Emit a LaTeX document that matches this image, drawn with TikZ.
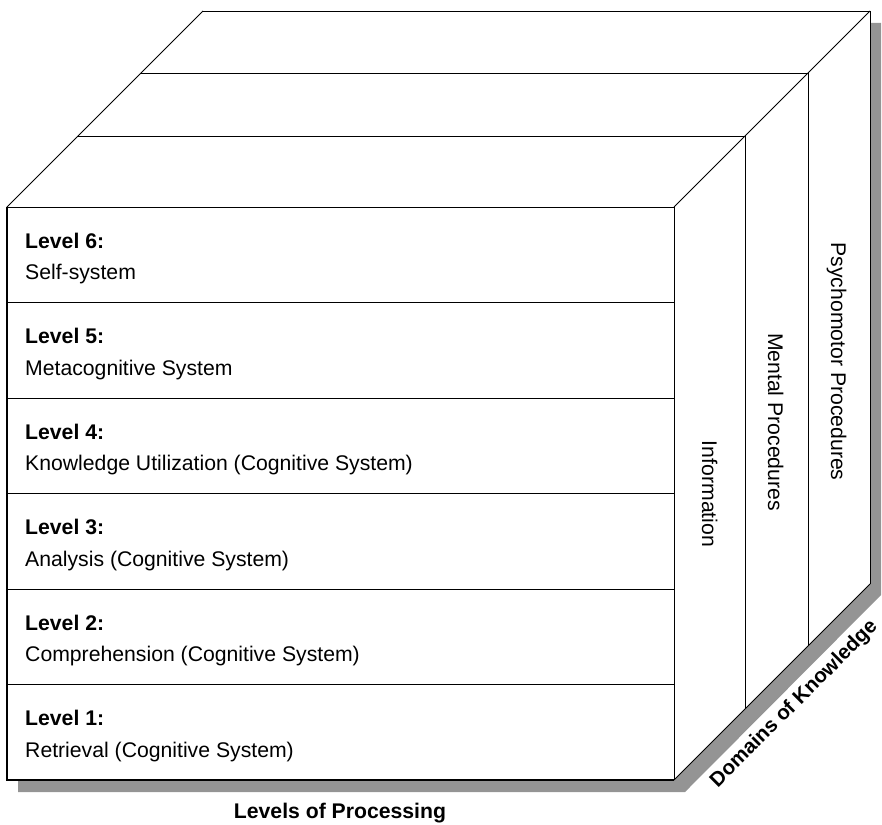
\documentclass[tikz,border=0pt]{standalone}
\usepackage{fontspec}
\setmainfont{Liberation Sans}
\tikzset{
  lvlhead/.style={anchor=base west, inner sep=0pt, font=\fontsize{21.2}{25}\selectfont\bfseries},
  lvltext/.style={anchor=base west, inner sep=0pt, font=\fontsize{21.2}{25}\selectfont},
  sidelabel/.style={anchor=base, inner sep=0pt, rotate=-90, font=\fontsize{21.2}{25}\selectfont},
  axislabel/.style={anchor=base, inner sep=0pt, font=\fontsize{21.2}{25}\selectfont\bfseries},
  edge/.style={line width=0.8pt, line join=miter},
}
\begin{document}
\begin{tikzpicture}[x=1pt,y=-1pt]
\useasboundingbox (0,0) rectangle (882,824);
\fill[black!42] (18,219) -- (214,23) -- (881,23) -- (881,595) -- (685,792) -- (18,792) -- cycle;
\fill[white] (7,207) -- (203,11) -- (870,11) -- (870,584) -- (674,780) -- (7,780) -- cycle;
\foreach \d in {71,134,196}
  \draw[edge] ({7+\d},{207-\d}) -- ({674+\d},{207-\d}) -- ({674+\d},{780-\d});
\draw[edge] (7,207) -- (203,11) (674,207) -- (870,11) (674,780) -- (870,584);
\foreach \i in {1,...,5}
  \draw[edge] (7,{207+\i*95.5}) -- (674,{207+\i*95.5});
\draw[edge] (7,207) -- (674,207) -- (674,780);
\draw[line width=1.8pt] (674,780) -- (7,780) -- (7,207);
\foreach \n/\txt [count=\i from 0] in {6/Self-system,5/Metacognitive System,4/Knowledge Utilization (Cognitive System),3/Analysis (Cognitive System),2/Comprehension (Cognitive System),1/Retrieval (Cognitive System)}{
  \node[lvlhead] (head\n) at (25,{248+\i*95.5}) {Level \n:};
  \node[lvltext] (desc\n) at (25,{279.5+\i*95.5}) {\txt};
}
\node[sidelabel] (info) at (702,494) {Information};
\node[sidelabel] (mental) at (768,422) {Mental Procedures};
\node[sidelabel] (psycho) at (831,361.5) {Psychomotor Procedures};
\node[axislabel, rotate=45, font=\fontsize{20.5}{24}\selectfont\bfseries] (domains) at (798,708) {Domains of Knowledge};
\node[axislabel] (levels) at (340,818) {Levels of Processing};
\end{tikzpicture}
\end{document}
